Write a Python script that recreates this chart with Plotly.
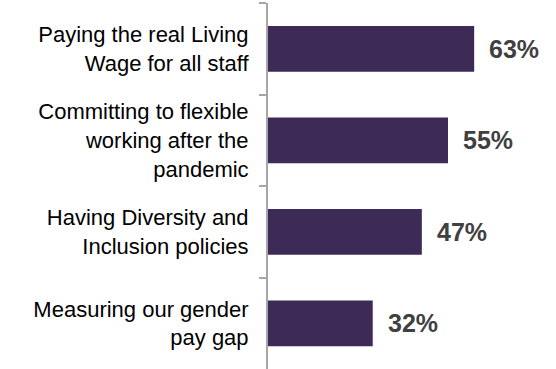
import plotly.graph_objects as go

# Survey results: share of respondents selecting each employer practice
categories = [
    "Paying the real Living<br>Wage for all staff",
    "Committing to flexible<br>working after the<br>pandemic",
    "Having Diversity and<br>Inclusion policies",
    "Measuring our gender<br>pay gap",
]
values = [63, 55, 47, 32]
value_labels = ["63%", "55%", "47%", "32%"]

BAR_COLOR = "#3D2A56"
AXIS_COLOR = "#A6A6A6"
VALUE_COLOR = "#404040"
FONT = "Liberation Sans, Arial, sans-serif"

fig = go.Figure(
    go.Bar(
        x=values,
        y=categories,
        orientation="h",
        marker=dict(color=BAR_COLOR, line=dict(width=0)),
        hoverinfo="skip",
    )
)

# Percentage labels placed just right of each bar end
for cat, val, lab in zip(categories, values, value_labels):
    fig.add_annotation(
        x=val, y=cat, xref="x", yref="y",
        text=f"<b>{lab}</b>",
        showarrow=False,
        xanchor="left", yanchor="middle",
        xshift=13,
        font=dict(family=FONT, size=25, color=VALUE_COLOR),
    )

fig.update_layout(
    width=556, height=369,
    margin=dict(l=268, r=0, t=3, b=0),
    paper_bgcolor="white",
    plot_bgcolor="white",
    bargap=0.5,
    showlegend=False,
    font=dict(family=FONT, color="#000000"),
)

fig.update_xaxes(
    range=[0, 88],
    visible=False,
    showgrid=False,
    zeroline=False,
)

fig.update_yaxes(
    autorange="reversed",
    showgrid=False,
    zeroline=False,
    showline=True,
    linecolor=AXIS_COLOR,
    linewidth=2,
    ticks="outside",
    tickson="boundaries",
    ticklen=7,
    tickwidth=1.5,
    tickcolor=AXIS_COLOR,
    ticklabelstandoff=13,
    tickfont=dict(family=FONT, size=22, color="#000000"),
)

fig.write_html("out.html", config={"displayModeBar": False})
